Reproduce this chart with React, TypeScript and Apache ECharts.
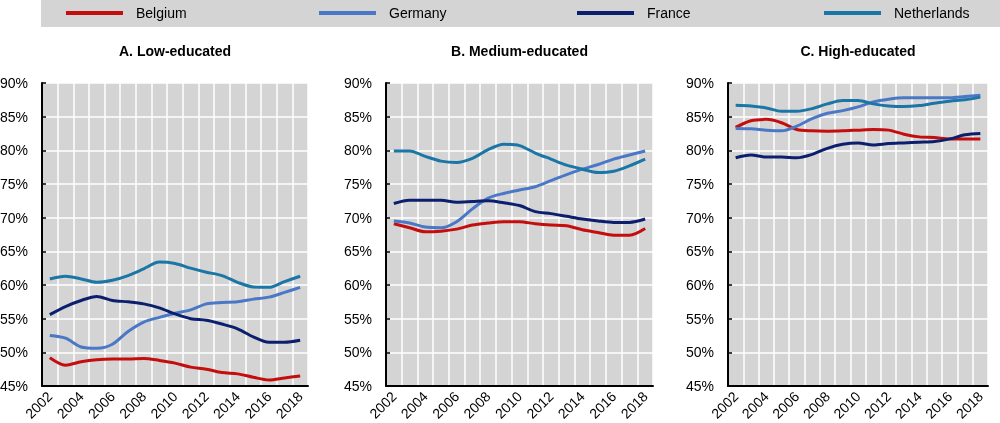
import React, { useEffect, useRef } from 'react';
import * as echarts from 'echarts';

const years = ['2002','2003','2004','2005','2006','2007','2008','2009','2010','2011','2012','2013','2014','2015','2016','2017','2018'];
const countries = ['Belgium', 'Germany', 'France', 'Netherlands'];
const countryColors = ['#c40d0d', '#4a78c6', '#0c1f6e', '#1a76a6'];
const panelTitles = ['A. Low-educated', 'B. Medium-educated', 'C. High-educated'];

// A. Low-educated
const lowBelgium = [49.2, 48.1, 48.6, 48.9, 49.0, 49.0, 49.1, 48.8, 48.4, 47.8, 47.5, 47.0, 46.8, 46.3, 45.9, 46.2, 46.5];
const lowGermany = [52.5, 52.1, 50.8, 50.6, 51.2, 53.1, 54.5, 55.2, 55.8, 56.3, 57.2, 57.4, 57.5, 57.9, 58.2, 58.9, 59.65];
const lowFrance = [55.6, 56.8, 57.7, 58.3, 57.7, 57.5, 57.2, 56.6, 55.7, 55.0, 54.75, 54.2, 53.5, 52.3, 51.5, 51.5, 51.8];
const lowNetherlands = [60.9, 61.3, 60.9, 60.4, 60.7, 61.4, 62.4, 63.4, 63.2, 62.5, 61.9, 61.4, 60.4, 59.7, 59.65, 60.5, 61.3];

// B. Medium-educated
const medBelgium = [69.1, 68.5, 67.9, 68.0, 68.3, 68.9, 69.2, 69.4, 69.4, 69.1, 68.9, 68.8, 68.2, 67.8, 67.4, 67.4, 68.4];
const medGermany = [69.5, 69.2, 68.6, 68.5, 69.4, 71.3, 72.9, 73.6, 74.1, 74.6, 75.5, 76.4, 77.2, 77.9, 78.7, 79.3, 79.9];
const medFrance = [72.1, 72.6, 72.6, 72.6, 72.3, 72.4, 72.5, 72.2, 71.8, 70.9, 70.6, 70.2, 69.8, 69.5, 69.3, 69.3, 69.8];
const medNetherlands = [79.9, 79.9, 79.1, 78.4, 78.2, 78.8, 80.1, 80.9, 80.7, 79.6, 78.7, 77.8, 77.2, 76.7, 76.9, 77.7, 78.7];

// C. High-educated
const highBelgium = [83.4, 84.4, 84.6, 84.1, 83.1, 82.9, 82.85, 82.9, 83.0, 83.1, 83.0, 82.4, 82.0, 81.9, 81.7, 81.7, 81.7];
const highGermany = [83.25, 83.2, 83.0, 82.9, 83.6, 84.7, 85.5, 85.9, 86.45, 87.2, 87.6, 87.8, 87.8, 87.8, 87.8, 88.0, 88.2];
const highFrance = [78.9, 79.3, 79.0, 79.0, 78.9, 79.4, 80.3, 80.9, 81.1, 80.8, 81.0, 81.1, 81.2, 81.3, 81.7, 82.3, 82.5];
const highNetherlands = [86.7, 86.6, 86.3, 85.8, 85.8, 86.2, 86.9, 87.4, 87.4, 86.9, 86.6, 86.5, 86.65, 87.0, 87.3, 87.5, 87.9];

const panelData = [
  [lowBelgium, lowGermany, lowFrance, lowNetherlands],
  [medBelgium, medGermany, medFrance, medNetherlands],
  [highBelgium, highGermany, highFrance, highNetherlands],
];

const FONT = '"Liberation Sans", Arial, sans-serif';
const grids = [
  { left: 42, top: 83, width: 266, height: 303 },
  { left: 386, top: 83, width: 267, height: 303 },
  { left: 728, top: 83, width: 260, height: 303 },
];
const legendLefts = [66, 319, 577, 824];

export default function App() {
  const ref = useRef<HTMLDivElement>(null);
  useEffect(() => {
    if (!ref.current) return;
    const chart = echarts.init(ref.current, undefined, { renderer: 'svg' });
    const series: any[] = [];
    panelData.forEach((pd, p) => {
      pd.forEach((vals, c) => {
        series.push({
          type: 'line',
          name: countries[c],
          xAxisIndex: p,
          yAxisIndex: p,
          data: vals,
          smooth: 0.3,
          symbol: 'none',
          lineStyle: { width: 3, color: countryColors[c] },
          itemStyle: { color: countryColors[c] },
        });
      });
    });
    chart.setOption({
      animation: false,
      grid: grids.map((g) => ({
        ...g,
        show: true,
        backgroundColor: '#d4d4d4',
        borderWidth: 0,
        containLabel: false,
        outerBoundsMode: 'none',
      })),
      xAxis: grids.map((_, i) => ({
        type: 'category',
        gridIndex: i,
        data: years,
        boundaryGap: true,
        axisLine: { lineStyle: { color: '#000', width: 2 } },
        axisTick: { inside: true, interval: 0, length: 4, lineStyle: { color: '#000', width: 1.5 } },
        axisLabel: { interval: 1, rotate: 45, fontSize: 14, color: '#000', margin: 8, fontFamily: FONT },
        splitLine: { show: true, interval: 0, lineStyle: { color: '#fff', width: 1.5 } },
      })),
      yAxis: grids.map((_, i) => ({
        type: 'value',
        gridIndex: i,
        min: 45,
        max: 90,
        interval: 5,
        axisLine: { show: true, lineStyle: { color: '#000', width: 2 } },
        axisTick: { show: true, inside: true, length: 4, lineStyle: { color: '#000', width: 1.5 } },
        axisLabel: { formatter: '{value}%', fontSize: 14, color: '#000', margin: 14, fontFamily: FONT },
        splitLine: { show: true, lineStyle: { color: '#fff', width: 1.5 } },
      })),
      legend: countries.map((name, i) => ({
        data: [name],
        left: legendLefts[i],
        top: 6,
        padding: 0,
        icon: 'rect',
        itemWidth: 57,
        itemHeight: 4,
        selectedMode: false,
        textStyle: { fontSize: 14, color: '#000', fontFamily: FONT, padding: [0, 0, 0, 8] },
      })),
      graphic: [
        { type: 'rect', z: -10, shape: { x: 41, y: 0, width: 959, height: 27 }, style: { fill: '#d4d4d4' } },
        ...panelTitles.map((t, i) => ({
          type: 'text',
          x: grids[i].left + grids[i].width / 2,
          y: 44,
          style: { text: t, textAlign: 'center', fill: '#000', font: `bold 14px ${FONT}` },
        })),
      ],
      series,
    });
    return () => chart.dispose();
  }, []);
  return <div ref={ref} style={{ position: 'fixed', left: 0, top: 0, width: 1000, height: 423 }} />;
}
